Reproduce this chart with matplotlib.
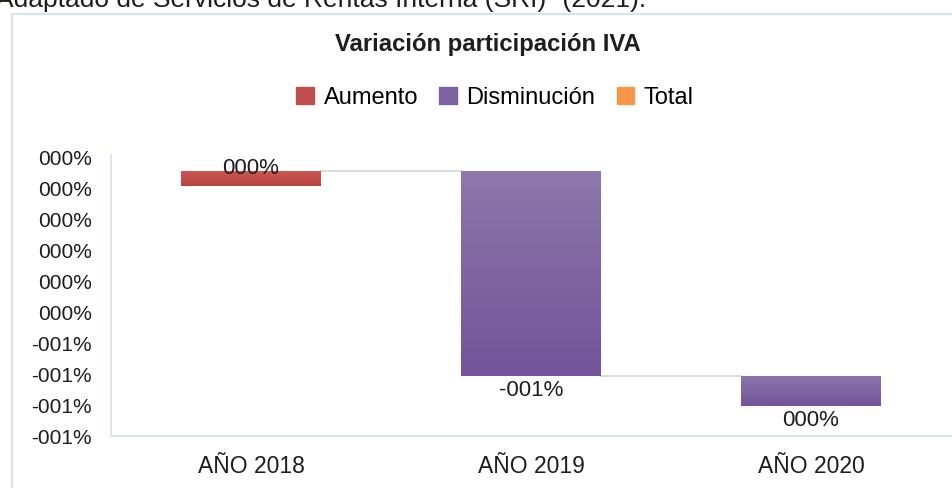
import numpy as np
import matplotlib
matplotlib.use("Agg")
import matplotlib.pyplot as plt
from matplotlib.patches import Rectangle

plt.rcParams['font.family'] = ['Liberation Sans', 'DejaVu Sans']

# ---- data (values in percentage points) ----
categories = ["AÑO 2018", "AÑO 2019", "AÑO 2020"]
start_value = 0.306
changes = [0.049, -0.661, -0.097]
bar_labels = ["000%", "-001%", "000%"]
tick_values = [0.4, 0.3, 0.2, 0.1, 0.0, -0.1, -0.2, -0.3, -0.4, -0.5]
tick_labels = ["000%", "000%", "000%", "000%", "000%", "000%",
               "-001%", "-001%", "-001%", "-001%"]
legend_names = ["Aumento", "Disminución", "Total"]

# ---- styling ----
c_up = "#c0504d"
c_down = "#7f62a1"
c_total = "#f79646"
grad_up = ("#cc5855", "#b9433f")
grad_down = ("#8d77ab", "#73539a")
border_col = "#d6e4f4"
txt = "#1e1e1e"

W, H = 953, 488
fig = plt.figure(figsize=(W / 100, H / 100), dpi=100)

# outer chart frame
fig.patches.append(Rectangle((12 / W, -0.01), 1.2, 1 - 14 / H + 0.01,
                             transform=fig.transFigure, fill=False,
                             edgecolor=border_col, linewidth=1.5))
fig.text(-0.004, 1 - 7 / H, "Adaptado de Servicios de Rentas Interna (SRI)\u201d (2021).",
         fontsize=19, color=txt, ha="left", va="baseline")

ax = fig.add_axes([111 / W, 1 - 436 / H, (951 - 111) / W, (436 - 155) / H])

x = np.arange(len(categories))
width = 0.5
level = start_value
for i, ch in enumerate(changes):
    lo, hi = (level, level + ch) if ch >= 0 else (level + ch, level)
    grad = grad_up if ch >= 0 else grad_down
    base_col = c_up if ch >= 0 else c_down
    bars = ax.bar(x[i], hi - lo, bottom=lo, width=width, color=base_col,
                  edgecolor="none", zorder=2)
    patch = bars[0]
    cmap = matplotlib.colors.LinearSegmentedColormap.from_list("g", [grad[1], grad[0]])
    grad_img = np.linspace(0, 1, 100).reshape(-1, 1)
    im = ax.imshow(grad_img, extent=[x[i] - width / 2, x[i] + width / 2, lo, hi],
                   origin="lower", cmap=cmap, aspect="auto", zorder=3)
    im.set_clip_path(patch)
    new_level = level + ch
    if i < len(changes) - 1:
        ax.plot([x[i] + width / 2, x[i + 1] - width / 2], [new_level, new_level],
                color="#d9d9d9", linewidth=1.3, zorder=1)
    if ch >= 0:
        ax.text(x[i], hi + 0.007, bar_labels[i], ha="center", va="center",
                fontsize=16, color=txt, zorder=4)
    else:
        ax.text(x[i], lo - 0.047, bar_labels[i], ha="center", va="center",
                fontsize=16, color=txt, zorder=4)
    level = new_level

ax.set_xlim(-0.5, 2.5)
ax.set_ylim(-0.5, 0.4065)
ax.set_yticks(tick_values)
ax.set_yticklabels(tick_labels)
ax.set_xticks(x)
ax.set_xticklabels(categories)
ax.tick_params(axis="y", length=0, pad=14, labelsize=15, labelcolor=txt)
ax.tick_params(axis="x", length=0, pad=14, labelsize=16.5, labelcolor=txt)
for s in ["top", "right"]:
    ax.spines[s].set_visible(False)
for s in ["left", "bottom"]:
    ax.spines[s].set_color(border_col)
    ax.spines[s].set_linewidth(1.3)
ax.set_facecolor("white")

# title
fig.text(488 / W, 1 - 44 / H, "Variación participación IVA", ha="center", va="center",
         fontsize=17.2, fontweight="bold", color=txt)

# legend
handles = [Rectangle((0, 0), 1, 1, color=c) for c in (c_up, c_down, c_total)]
fig.legend(handles, legend_names, loc="center", bbox_to_anchor=(495 / W, 1 - 98 / H),
           ncol=3, frameon=False, fontsize=17, handlelength=0.75, handleheight=0.75,
           handletextpad=0.4, columnspacing=0.9)

fig.savefig("out.png", dpi=100)
